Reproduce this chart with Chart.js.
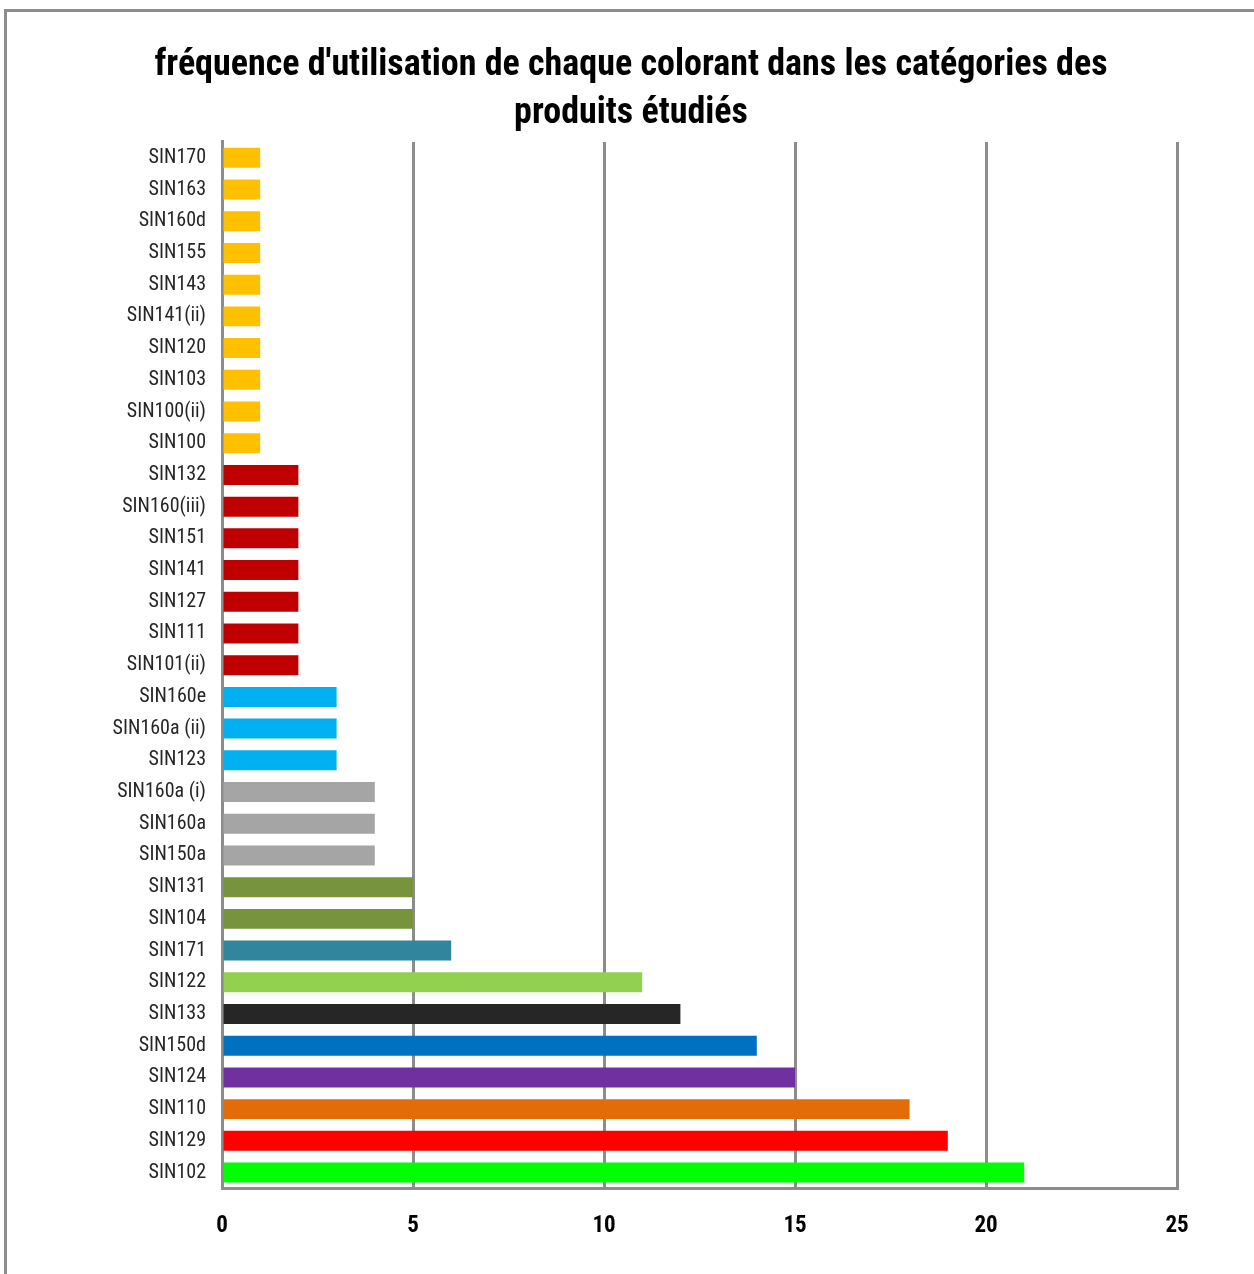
<!DOCTYPE html>
<html>
<head>
<meta charset="utf-8">
<script src="https://cdn.jsdelivr.net/npm/chart.js@4/dist/chart.umd.min.js"></script>
<style>
  html, body { margin: 0; padding: 0; background: #fff; overflow: hidden; }
  #wrap { position: relative; width: 1254px; height: 1274px; }
  #frame { position: absolute; left: 4px; top: 9px; width: 1300px; height: 1300px; border: 3px solid #8c8c8c; box-sizing: border-box; }
  canvas { position: absolute; left: 0; top: 0; }
</style>
</head>
<body>
<div id="wrap">
  <div id="frame"></div>
  <canvas id="c" width="1254" height="1274"></canvas>
</div>
<script>
const categories = ["SIN170","SIN163","SIN160d","SIN155","SIN143","SIN141(ii)","SIN120","SIN103","SIN100(ii)","SIN100",
  "SIN132","SIN160(iii)","SIN151","SIN141","SIN127","SIN111","SIN101(ii)",
  "SIN160e","SIN160a (ii)","SIN123",
  "SIN160a (i)","SIN160a","SIN150a",
  "SIN131","SIN104","SIN171","SIN122","SIN133","SIN150d","SIN124","SIN110","SIN129","SIN102"];
const values = [1,1,1,1,1,1,1,1,1,1,
  2,2,2,2,2,2,2,
  3,3,3,
  4,4,4,
  5,5,6,11,12,14,15,18,19,21];
const barColors = ["#FFC000","#FFC000","#FFC000","#FFC000","#FFC000","#FFC000","#FFC000","#FFC000","#FFC000","#FFC000",
  "#C00000","#C00000","#C00000","#C00000","#C00000","#C00000","#C00000",
  "#00B0F0","#00B0F0","#00B0F0",
  "#A5A5A5","#A5A5A5","#A5A5A5",
  "#77933C","#77933C","#31859C","#92D050","#262626","#0070C0","#7030A0","#E36C09","#FF0000","#00FF00"];
const xTicks = [0,5,10,15,20,25];
const titleLines = ["fréquence d'utilisation de chaque colorant dans les catégories des", "produits étudiés"];

const FONT = "'Liberation Sans Narrow', 'Roboto Condensed', 'Arial Narrow', 'Liberation Sans', sans-serif";

new Chart(document.getElementById('c'), {
  type: 'bar',
  data: {
    labels: categories,
    datasets: [{
      data: values,
      backgroundColor: barColors,
      borderWidth: 0,
      categoryPercentage: 1,
      barPercentage: 0.63
    }]
  },
  options: {
    indexAxis: 'y',
    responsive: false,
    animation: false,
    layout: { padding: { left: 85, right: 77, top: 0, bottom: 10 } },
    plugins: {
      legend: { display: false },
      tooltip: { enabled: false },
      title: {
        display: true,
        text: titleLines,
        color: '#000',
        font: { family: FONT, size: 36, weight: 'bold', lineHeight: 1.333 },
        padding: { top: 42, bottom: 4 }
      }
    },
    scales: {
      x: {
        min: 0, max: 25,
        afterBuildTicks: (axis) => { axis.ticks = xTicks.map(v => ({ value: v })); },
        grid: { color: '#8c8c8c', lineWidth: 3, drawTicks: false },
        border: { display: true, color: '#8c8c8c', width: 3 },
        ticks: { color: '#000', padding: 24, font: { family: FONT, size: 23, weight: 'bold' } }
      },
      y: {
        afterFit: (axis) => { axis.width = 137; },
        grid: { display: false, drawTicks: false },
        border: { display: true, color: '#8c8c8c', width: 3 },
        ticks: { color: '#262626', padding: 16, autoSkip: false, font: { family: FONT, size: 20 } }
      }
    }
  }
});
</script>
</body>
</html>
